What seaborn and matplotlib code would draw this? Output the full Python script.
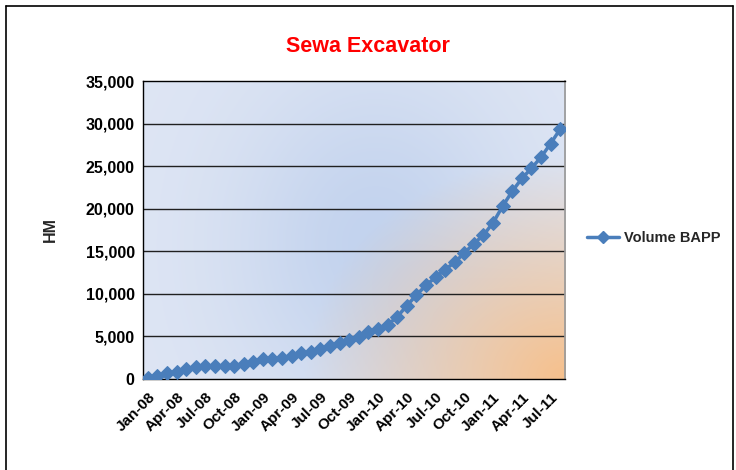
import numpy as np
import pandas as pd
import matplotlib
matplotlib.use("Agg")
import matplotlib.pyplot as plt
import seaborn as sns
from matplotlib.lines import Line2D
from matplotlib.colors import to_rgb

# ---------------- data ----------------
months = ["Jan-08", "Feb-08", "Mar-08", "Apr-08", "May-08", "Jun-08", "Jul-08", "Aug-08",
          "Sep-08", "Oct-08", "Nov-08", "Dec-08", "Jan-09", "Feb-09", "Mar-09", "Apr-09",
          "May-09", "Jun-09", "Jul-09", "Aug-09", "Sep-09", "Oct-09", "Nov-09", "Dec-09",
          "Jan-10", "Feb-10", "Mar-10", "Apr-10", "May-10", "Jun-10", "Jul-10", "Aug-10",
          "Sep-10", "Oct-10", "Nov-10", "Dec-10", "Jan-11", "Feb-11", "Mar-11", "Apr-11",
          "May-11", "Jun-11", "Jul-11", "Aug-11"]
volume_bapp = [100, 400, 650, 850, 1150, 1450, 1550, 1550,
               1550, 1550, 1800, 2050, 2300, 2300, 2450, 2750,
               3000, 3150, 3500, 3850, 4250, 4600, 4900, 5500,
               5850, 6350, 7300, 8600, 9850, 11000, 11950, 12850,
               13700, 14800, 15900, 16900, 18350, 20300, 22050, 23550,
               24750, 26050, 27650, 29350]
y_ticks = [0, 5000, 10000, 15000, 20000, 25000, 30000, 35000]
series_name = "Volume BAPP"
title = "Sewa Excavator"
y_label = "HM"

df = pd.DataFrame({"idx": np.arange(len(months)), "month": months, "value": volume_bapp})

# ---------------- figure ----------------
sns.set_theme(style="white")
plt.rcParams["font.family"] = ["Liberation Sans", "DejaVu Sans"]

W, H = 736, 470
fig = plt.figure(figsize=(W / 100, H / 100), dpi=100)
fig.patch.set_facecolor("white")

L, R, T, B = 143, 565, 81, 379
ax = fig.add_axes([L / W, 1 - B / H, (R - L) / W, (B - T) / H])

# gradient background
nx, ny = 300, 200
xs = np.linspace(0, 1, nx)
ys = np.linspace(1, 0, ny)
X, Y = np.meshgrid(xs, ys)
light = np.array(to_rgb("#dfe6f4"))
mid = np.array(to_rgb("#c3d3ee"))
peach = np.array(to_rgb("#f6c08c"))
f = np.exp(-(((X - 0.55) ** 2) / 0.12 + ((Y - 0.45) ** 2) / 0.35))
base = light[None, None, :] * (1 - f[..., None]) + mid[None, None, :] * f[..., None]
d = np.sqrt(((1 - X) / 0.62) ** 2 + (Y / 0.75) ** 2)
w = np.clip(1 - d, 0, 1) ** 1.0
img = base * (1 - w[..., None]) + peach[None, None, :] * w[..., None]
ax.imshow(img, extent=[0, 1, 0, 1], transform=ax.transAxes, aspect="auto", zorder=0,
          interpolation="bilinear")

color = "#4a7ebb"
sns.lineplot(data=df, x="idx", y="value", ax=ax, color=color, linewidth=2.5,
             marker="D", markersize=7.5, markeredgecolor=color, markerfacecolor=color,
             legend=False, zorder=5)

ax.set_xlim(-0.5, len(months) - 0.5)
ax.set_ylim(0, 35000)
ax.set_yticks(y_ticks)
ax.set_yticklabels([f"{v:,}" for v in y_ticks], fontsize=11.5, fontweight="bold")
tick_pos = list(range(0, len(months), 3))
ax.set_xticks(tick_pos)
ax.set_xticklabels([months[i] for i in tick_pos], rotation=45, ha="right",
                   rotation_mode="anchor", fontsize=11, fontweight="bold")
ax.tick_params(axis="both", length=0, pad=6, colors="black")
ax.tick_params(axis="x", pad=8)
ax.set_xlabel("")
ax.set_ylabel(y_label, fontsize=11.5, fontweight="bold", labelpad=20)

for yv in y_ticks[1:-1]:
    ax.axhline(yv, color="#202020", linewidth=1.0, zorder=1)

for s in ["left", "bottom", "top"]:
    ax.spines[s].set_color("black")
    ax.spines[s].set_linewidth(1.0)
ax.spines["right"].set_color("#9a9a9a")

fig.text(0.5, 1 - 47 / H, title, color="#ff0000", fontsize=15.5, fontweight="bold",
         ha="center", va="center")

handle = Line2D([0], [0], color=color, linewidth=2.5, marker="D", markersize=6,
                markerfacecolor=color, markeredgecolor=color)
fig.legend([handle], [series_name], loc="center left",
           bbox_to_anchor=(574 / W, 1 - 238 / H), frameon=False,
           prop={"weight": "bold", "size": 10.5}, handlelength=2.2, handletextpad=0.3)

# outer border
for (x0, y0, x1, y1) in [(6, 6, 733, 6), (6, 6, 6, 470), (733, 6, 733, 470)]:
    fig.add_artist(Line2D([x0 / W, x1 / W], [1 - y0 / H, 1 - y1 / H],
                          transform=fig.transFigure, color="black", linewidth=1.2))

fig.savefig("out.png", dpi=100)
